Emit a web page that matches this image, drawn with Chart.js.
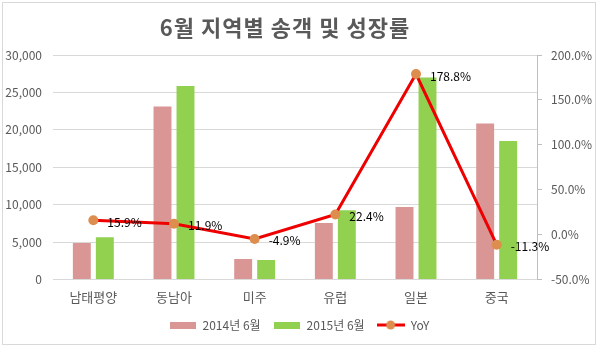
<!DOCTYPE html>
<html>
<head>
<meta charset="utf-8">
<script src="https://cdn.jsdelivr.net/npm/chart.js@4"></script>
<style>
  body { margin: 0; background: #fff; }
  #wrap { position: relative; width: 598px; height: 350px; }
  #frame { position: absolute; left: 2px; top: 2px; width: 592px; height: 341px; border: 1px solid #d9d9d9; pointer-events: none; }
</style>
</head>
<body>
<div id="wrap">
  <canvas id="chart" width="598" height="350"></canvas>
  <div id="frame"></div>
</div>
<script>
const regions = ['남태평양', '동남아', '미주', '유럽', '일본', '중국'];
const pax2014 = [4860, 23100, 2720, 7540, 9680, 20850];
const pax2015 = [5640, 25850, 2590, 9230, 26990, 18500];
const yoy = [15.9, 11.9, -4.9, 22.4, 178.8, -11.3];

const FONT = "'Noto Sans CJK KR', 'Noto Sans', sans-serif";
const GREY = '#595959';

// little canvases for the legend markers
function boxIcon(color) {
  const c = document.createElement('canvas');
  c.width = 26; c.height = 7;
  const g = c.getContext('2d');
  g.fillStyle = color;
  g.fillRect(0, 0, 26, 7);
  return c;
}
function lineIcon() {
  const c = document.createElement('canvas');
  c.width = 28; c.height = 10;
  const g = c.getContext('2d');
  g.strokeStyle = '#ee0000';
  g.lineWidth = 3;
  g.beginPath(); g.moveTo(0, 5); g.lineTo(28, 5); g.stroke();
  g.fillStyle = '#dd8e4e';
  g.beginPath(); g.arc(14, 5, 4.5, 0, Math.PI * 2); g.fill();
  return c;
}
const icons = [boxIcon('#d99694'), boxIcon('#92d050'), lineIcon()];

const titlePlugin = {
  id: 'titleText',
  afterDraw(chart) {
    const c = chart.ctx;
    c.save();
    c.font = "bold 22px " + FONT;
    c.letterSpacing = '1px';
    c.fillStyle = GREY;
    c.textAlign = 'center';
    c.textBaseline = 'middle';
    c.fillText('6월 지역별 송객 및 성장률', 285, 28);
    c.restore();
  }
};

const pctLabels = {
  id: 'pctLabels',
  afterDatasetsDraw(chart) {
    const meta = chart.getDatasetMeta(0);
    const c = chart.ctx;
    c.save();
    c.font = "12px " + FONT;
    c.fillStyle = '#000';
    c.textAlign = 'left';
    c.textBaseline = 'middle';
    meta.data.forEach((pt, i) => {
      c.fillText(yoy[i].toFixed(1) + '%', pt.x + 14, pt.y + 2);
    });
    c.restore();
  }
};

new Chart(document.getElementById('chart'), {
  data: {
    labels: regions,
    datasets: [
      {
        type: 'line', label: 'YoY', data: yoy, yAxisID: 'y1', order: 0,
        borderColor: '#ee0000', borderWidth: 3, backgroundColor: '#dd8e4e',
        pointRadius: 5, pointBackgroundColor: '#dd8e4e', pointBorderWidth: 0,
        tension: 0
      },
      {
        type: 'bar', label: '2014년 6월', data: pax2014, yAxisID: 'y', order: 1,
        backgroundColor: '#d99694', barPercentage: 0.78, categoryPercentage: 0.57
      },
      {
        type: 'bar', label: '2015년 6월', data: pax2015, yAxisID: 'y', order: 1,
        backgroundColor: '#92d050', barPercentage: 0.78, categoryPercentage: 0.57
      }
    ]
  },
  options: {
    responsive: false,
    animation: false,
    layout: { padding: { top: 55, left: 0, right: 0, bottom: 9 } },
    scales: {
      x: {
        grid: { display: false },
        border: { color: '#d9d9d9' },
        ticks: { color: GREY, font: { family: FONT, size: 13 }, padding: 2 }
      },
      y: {
        position: 'left', min: 0, max: 30000,
        afterFit(s) { s.width = 53; },
        grid: { color: '#d9d9d9', drawTicks: false },
        border: { display: false },
        ticks: {
          stepSize: 5000, padding: 11, color: GREY, font: { family: FONT, size: 12 },
          callback: v => v.toLocaleString('en-US')
        }
      },
      y1: {
        position: 'right', min: -50, max: 200,
        afterFit(s) { s.width = 61; },
        grid: { drawOnChartArea: false, color: '#bfbfbf', tickLength: 5 },
        border: { color: '#bfbfbf' },
        ticks: {
          stepSize: 50, padding: 9, color: GREY, font: { family: FONT, size: 12 },
          callback: v => v.toFixed(1) + '%'
        }
      }
    },
    plugins: {
      title: { display: false },
      tooltip: { enabled: false },
      legend: {
        position: 'bottom',
        labels: {
          usePointStyle: true, pointStyleWidth: 28, boxHeight: 10, padding: 12,
          color: GREY, font: { family: FONT, size: 12 },
          generateLabels(chart) {
            const order = [1, 2, 0];
            return order.map((di, k) => ({
              text: chart.data.datasets[di].label,
              pointStyle: icons[k],
              fillStyle: 'transparent', strokeStyle: 'transparent', lineWidth: 0,
              fontColor: GREY, datasetIndex: di, hidden: false
            }));
          }
        }
      }
    }
  },
  plugins: [titlePlugin, pctLabels]
});
</script>
</body>
</html>
